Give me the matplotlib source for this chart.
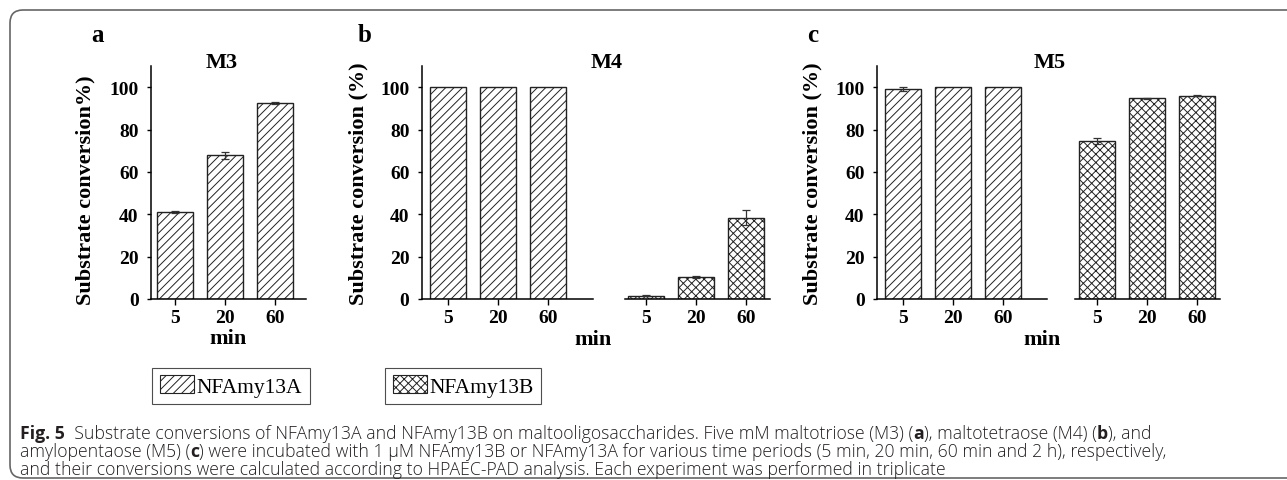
import numpy as np
import matplotlib
matplotlib.use("Agg")
import matplotlib.pyplot as plt
from matplotlib.patches import Patch, FancyBboxPatch

# ---- data ----
times = ["5", "20", "60"]
m3_a = [41.1, 67.8, 92.7]
m3_a_err = [0.3, 1.8, 0.5]
m4_a = [100, 100, 100]
m4_a_err = [0, 0, 0]
m4_b = [1.6, 10.3, 38.4]
m4_b_err = [0.2, 0.5, 3.6]
m5_a = [99.2, 100, 100]
m5_a_err = [0.8, 0, 0]
m5_b = [74.5, 94.8, 95.9]
m5_b_err = [1.3, 0.2, 0.2]

W, H = 1287, 481
serif = "Liberation Serif"
plt.rcParams["font.family"] = serif
plt.rcParams["hatch.linewidth"] = 0.7
plt.rcParams["hatch.color"] = "#222222"

fig = plt.figure(figsize=(W / 100, H / 100), dpi=100)

def px_axes(x0, x1, ytop=67, ybot=300):
    # pixel box (top-left origin) -> figure fractions
    return fig.add_axes([x0 / W, 1 - ybot / H, (x1 - x0) / W, (ybot - ytop) / H])

def draw(ax, vals, errs, hatch, xlim, left=True):
    x = np.arange(len(vals))
    ax.bar(x, vals, width=0.72, color="white", edgecolor="#222222", linewidth=1.0, hatch=hatch, zorder=2)
    e = np.array(errs)
    ax.errorbar(x[e > 0], np.array(vals)[e > 0], yerr=e[e > 0], fmt="none", ecolor="#333333",
                elinewidth=0.9, capsize=3, capthick=0.9, zorder=3)
    ax.set_xlim(*xlim)
    ax.set_ylim(0, 110)
    ax.set_xticks(x)
    ax.set_xticklabels(times, fontsize=14, fontweight="bold")
    ax.tick_params(axis="x", length=4, width=1, direction="out", pad=3)
    ax.spines["top"].set_visible(False)
    ax.spines["right"].set_visible(False)
    ax.spines["bottom"].set_linewidth(1.1)
    if left:
        ax.set_yticks([0, 20, 40, 60, 80, 100])
        ax.set_yticklabels(["0", "20", "40", "60", "80", "100"], fontsize=14, fontweight="bold")
        ax.tick_params(axis="y", length=3, width=1, direction="out", pad=6)
        ax.spines["left"].set_linewidth(1.1)
    else:
        ax.spines["left"].set_visible(False)
        ax.set_yticks([])

# panel a
ax_a = px_axes(151, 306)
draw(ax_a, m3_a, m3_a_err, "////", (-0.48, 2.62))
ax_a.set_ylabel("Substrate conversion%)", fontsize=16, fontweight="bold")
ax_a.yaxis.set_label_coords(-0.36, 0.47)
ax_a.set_xlabel("min", fontsize=16, fontweight="bold", labelpad=2)

# panel b
ax_b1 = px_axes(422, 593)
draw(ax_b1, m4_a, m4_a_err, "////", (-0.52, 2.9))
ax_b1.set_ylabel("Substrate conversion (%)", fontsize=16, fontweight="bold")
ax_b1.yaxis.set_label_coords(-0.315, 0.5)
ax_b2 = px_axes(625, 770)
draw(ax_b2, m4_b, m4_b_err, "xxxx", (-0.42, 2.48), left=False)

# panel c
ax_c1 = px_axes(877, 1047)
draw(ax_c1, m5_a, m5_a_err, "////", (-0.52, 2.88))
ax_c1.set_ylabel("Substrate conversion (%)", fontsize=16, fontweight="bold")
ax_c1.yaxis.set_label_coords(-0.318, 0.5)
ax_c2 = px_axes(1075, 1220)
draw(ax_c2, m5_b, m5_b_err, "xxxx", (-0.44, 2.46), left=False)

def ftext(x, y, s, **kw):
    fig.text(x / W, 1 - y / H, s, **kw)

# titles, panel letters, x labels
ftext(222, 63, "M3", fontsize=16, fontweight="bold", ha="center", va="center")
ftext(607, 63, "M4", fontsize=16, fontweight="bold", ha="center", va="center")
ftext(1050, 63, "M5", fontsize=16, fontweight="bold", ha="center", va="center")
ftext(97, 36, "a", fontsize=18, fontweight="bold", ha="center", va="center")
ftext(365, 36, "b", fontsize=18, fontweight="bold", ha="center", va="center")
ftext(813, 36, "c", fontsize=18, fontweight="bold", ha="center", va="center")
ftext(593, 340, "min", fontsize=16, fontweight="bold", ha="center", va="center")
ftext(1042, 340, "min", fontsize=16, fontweight="bold", ha="center", va="center")

# legends (two separate boxes)
for lab, hatch, xc in [("NFAmy13A", "////", 231), ("NFAmy13B", "xxxx", 463)]:
    h = Patch(facecolor="white", edgecolor="#222222", hatch=hatch, linewidth=0.8)
    lg = fig.legend([h], [lab], loc="center", bbox_to_anchor=(xc / W, 1 - 387 / H),
                    frameon=True, fancybox=False, edgecolor="#222222", handlelength=1.6,
                    handleheight=0.9, handletextpad=0.1, borderpad=0.35, borderaxespad=0,
                    prop={"family": serif, "size": 15.5})
    lg.get_frame().set_linewidth(0.8)

# rounded border
box = FancyBboxPatch((0.10, 0.02), 13.5, 4.68, boxstyle="round,pad=0,rounding_size=0.13",
                     transform=fig.dpi_scale_trans, facecolor="none", edgecolor="#666666",
                     linewidth=1.2)
fig.patches.append(box)

# caption with bold pieces
cap_font = "Open Sans"
cap_size = 12.7
cap_color = "#231f20"
lines = [
    [("Fig. 5", True), ("  Substrate conversions of NFAmy13A and NFAmy13B on maltooligosaccharides. Five mM maltotriose (M3) (", False),
     ("a", True), ("), maltotetraose (M4) (", False), ("b", True), ("), and", False)],
    [("amylopentaose (M5) (", False), ("c", True),
     (") were incubated with 1 \u00b5M NFAmy13B or NFAmy13A for various time periods (5 min, 20 min, 60 min and 2 h), respectively,", False)],
    [("and their conversions were calculated according to HPAEC-PAD analysis. Each experiment was performed in triplicate", False)],
]
line_base = [439, 457, 475]
fig.canvas.draw()
r = fig.canvas.get_renderer()
for segs, yy in zip(lines, line_base):
    x = 20
    for s, bold in segs:
        t = fig.text(x / W, 1 - yy / H, s, fontsize=cap_size, family=cap_font,
                     fontweight="bold" if bold else "light", color=cap_color, va="baseline", ha="left")
        x += t.get_window_extent(r).width

fig.savefig("out.png", dpi=100)
